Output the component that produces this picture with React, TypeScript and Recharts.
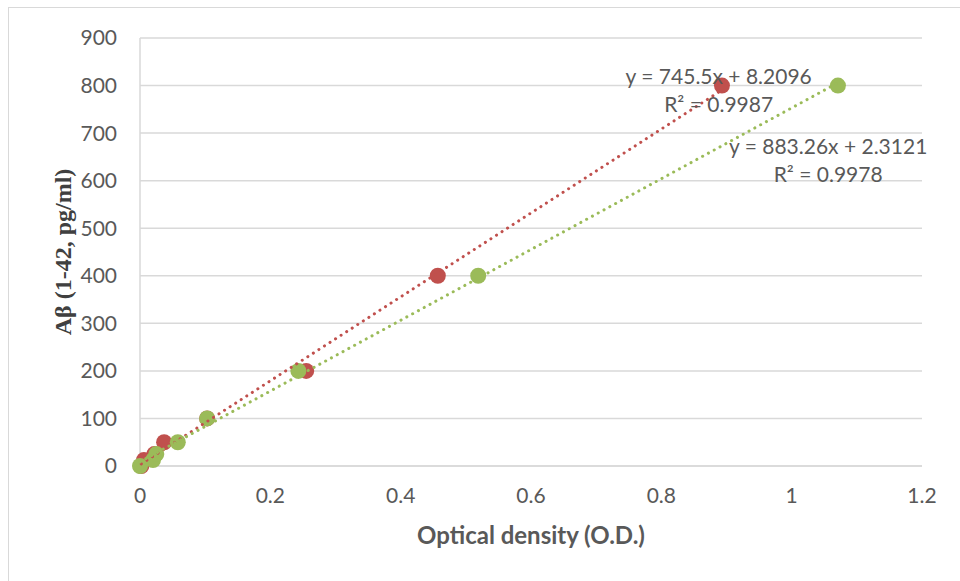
import React from 'react';
import { ScatterChart, Scatter, XAxis, YAxis, CartesianGrid, ReferenceDot } from 'recharts';

// Aβ standards (pg/ml) and measured optical densities for the two runs
const concentrations = [0, 12.5, 25, 50, 100, 200, 400, 800];
const redOD = [0.002, 0.006, 0.022, 0.037, 0.103, 0.255, 0.457, 0.893];
const greenOD = [0, 0.02, 0.025, 0.058, 0.103, 0.243, 0.519, 1.071];

const xTicks = [0, 0.2, 0.4, 0.6, 0.8, 1, 1.2];
const yTicks = [0, 100, 200, 300, 400, 500, 600, 700, 800, 900];

const redEquation = ['y = 745.5x + 8.2096', 'R² = 0.9987'];
const greenEquation = ['y = 883.26x + 2.3121', 'R² = 0.9978'];
// where the trendline labels sit, in data units
const redLabelAt = { x: 0.888, y: 822 };
const greenLabelAt = { x: 1.056, y: 675 };

const RED = '#c0504d';
const GREEN = '#9bbb59';
const TEXT = '#595959';
const GRID = '#d9d9d9';
const FONT = 'Lato, "Open Sans", sans-serif';

const toPoints = (xs: number[], ys: number[]) => xs.map((x, i) => ({ x, y: ys[i] }));

// least squares trendline over the data range
const trend = (xs: number[], ys: number[]) => {
  const n = xs.length;
  const mx = xs.reduce((a, b) => a + b, 0) / n;
  const my = ys.reduce((a, b) => a + b, 0) / n;
  let sxy = 0;
  let sxx = 0;
  xs.forEach((x, i) => {
    sxy += (x - mx) * (ys[i] - my);
    sxx += (x - mx) * (x - mx);
  });
  const slope = sxy / sxx;
  const icpt = my - slope * mx;
  const lo = Math.min(...xs);
  const hi = Math.max(...xs);
  return [
    { x: lo, y: icpt + slope * lo },
    { x: hi, y: icpt + slope * hi },
  ];
};

const redPoints = toPoints(redOD, concentrations);
const greenPoints = toPoints(greenOD, concentrations);
const redTrend = trend(redOD, concentrations);
const greenTrend = trend(greenOD, concentrations);

const Dot = (color: string) => (props: any) => (
  <circle cx={props.cx} cy={props.cy} r={8} fill={color} />
);

const NoShape = () => null;

const eqLabel = (lines: string[]) => (props: any) => {
  const vb = props.viewBox || {};
  const cx = (vb.x ?? 0) + (vb.width ?? 0) / 2;
  const cy = (vb.y ?? 0) + (vb.height ?? 0) / 2;
  return (
    <g>
      {lines.map((t, i) => (
        <text
          key={i}
          x={cx}
          y={cy + i * 28}
          textAnchor="middle"
          dominantBaseline="central"
          fill={TEXT}
          fontSize={21}
          fontFamily={FONT}
        >
          {t}
        </text>
      ))}
    </g>
  );
};

const dotted = (color: string) => ({
  stroke: color,
  strokeWidth: 3,
  strokeDasharray: '0.1 6.5',
  strokeLinecap: 'round' as const,
});

export default function App() {
  return (
    <div style={{ position: 'fixed', left: 0, top: 0, width: 960, height: 581, overflow: 'hidden', background: '#fff' }}>
      <div style={{ position: 'absolute', left: 8, top: 7, width: 960, height: 580, border: `1px solid ${GRID}` }} />
      <div style={{ position: 'absolute', left: 0, top: 0 }}>
        <ScatterChart width={960} height={581} margin={{ top: 38, right: 38, bottom: 35, left: 60 }}>
          <CartesianGrid vertical={false} stroke={GRID} strokeWidth={1.5} />
          <XAxis
            type="number"
            dataKey="x"
            domain={[0, 1.2]}
            ticks={xTicks}
            height={80}
            tickLine={false}
            tickSize={0}
            tickMargin={22}
            axisLine={{ stroke: GRID, strokeWidth: 1.5 }}
            tick={{ fill: TEXT, fontSize: 21, fontFamily: FONT }}
            label={{
              value: 'Optical density (O.D.)',
              position: 'insideBottom',
              offset: 2,
              fill: TEXT,
              fontSize: 24,
              fontWeight: 'bold',
              fontFamily: FONT,
            }}
          />
          <YAxis
            type="number"
            dataKey="y"
            domain={[0, 900]}
            ticks={yTicks}
            width={80}
            tickLine={false}
            tickSize={0}
            tickMargin={23}
            axisLine={{ stroke: GRID, strokeWidth: 1.5 }}
            tick={{ fill: TEXT, fontSize: 21, fontFamily: FONT }}
            label={{
              value: 'Aβ (1-42, pg/ml)',
              angle: -90,
              position: 'insideLeft',
              offset: 2,
              fill: '#404040',
              fontSize: 24,
              fontWeight: 'bold',
              fontFamily: '"Liberation Serif", "Times New Roman", serif',
              style: { textAnchor: 'middle' },
            }}
          />
          <Scatter data={redPoints} shape={Dot(RED)} isAnimationActive={false} />
          <Scatter data={greenPoints} shape={Dot(GREEN)} isAnimationActive={false} />
          <Scatter data={redTrend} shape={NoShape} line={dotted(RED)} lineType="joint" isAnimationActive={false} />
          <Scatter data={greenTrend} shape={NoShape} line={dotted(GREEN)} lineType="joint" isAnimationActive={false} />
          <ReferenceDot x={redLabelAt.x} y={redLabelAt.y} r={0} stroke="none" fill="none" label={{ content: eqLabel(redEquation) }} />
          <ReferenceDot x={greenLabelAt.x} y={greenLabelAt.y} r={0} stroke="none" fill="none" label={{ content: eqLabel(greenEquation) }} />
        </ScatterChart>
      </div>
    </div>
  );
}
